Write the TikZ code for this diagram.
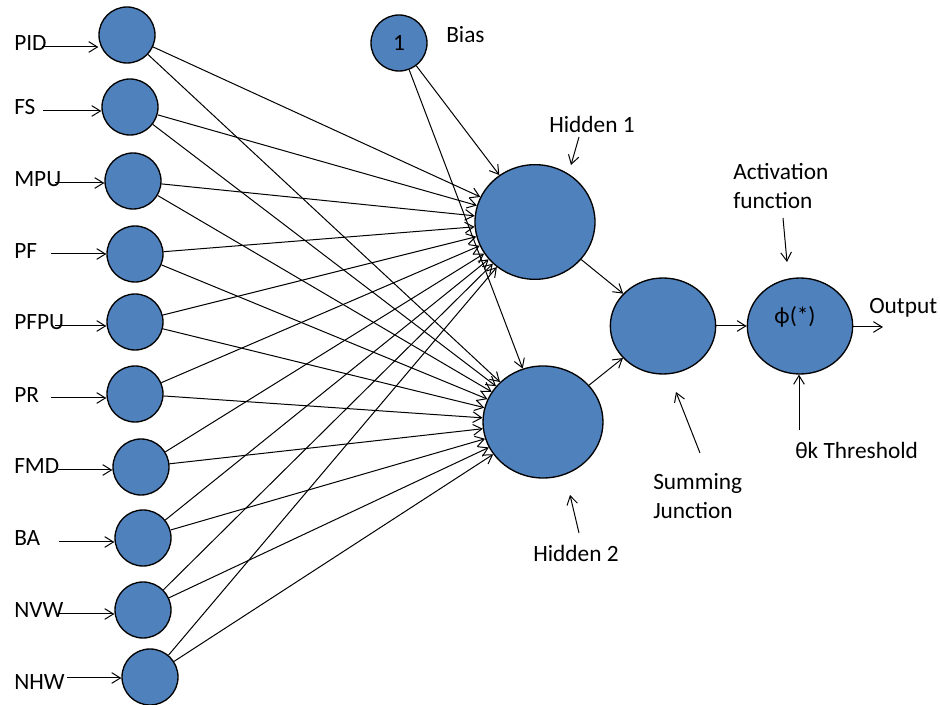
\documentclass[tikz,border=0pt]{standalone}
\usepackage{fontspec}
\setmainfont{Carlito}
\usetikzlibrary{arrows.meta,shapes.geometric}
\begin{document}
\begin{tikzpicture}[x=0.75pt,y=-0.75pt,
  every node/.style={font=\fontsize{17.5}{21.5}\selectfont},
  neuron/.style={circle,draw=black,line width=1pt,fill={rgb,255:red,79;green,129;blue,189},minimum size=42pt,inner sep=0pt},
  big/.style={ellipse,draw=black,line width=1pt,fill={rgb,255:red,79;green,129;blue,189},inner sep=0pt},
  lbl/.style={anchor=west,inner sep=0pt},
  arr/.style={line width=0.75pt,-{Straight Barb[length=6.5pt,width=8pt]}},
  wire/.style={line width=0.75pt,-{Straight Barb[length=6.5pt,width=8pt]}}]
\useasboundingbox (0,0) rectangle (940,705);

% hidden, summing, activation
\node[big,minimum width=90pt,minimum height=86pt] (h1) at (535,222) {};
\node[big,minimum width=90pt,minimum height=84pt] (h2) at (543,422) {};
\node[big,minimum width=79pt,minimum height=72pt] (sum) at (663,326) {};
\node[big,minimum width=79pt,minimum height=72pt] (act) at (800,326) {};
\node[inner sep=0pt] (phi) at (795,317) {ϕ(*)};

% bias
\node[neuron] (bias) at (399,43) {1};
\node[lbl] (biasl) at (446,35) {Bias};

% inputs
\foreach \n/\cx/\cy/\ly/\sx/\sy in {PID/127/35/43/42/47, FS/130/107/107/43/111, MPU/133/181/179/55/183, PF/135/254/251/51/254, PFPU/135/322/322/55/326, PR/135/394/395/51/398, FMD/141/467/466/58/470, BA/143/538/538/59/542, NVW/143/610/610/58/614, NHW/150/677/682/67/678}{
  \node[neuron] (i\n) at (\cx,\cy) {};
  \node[lbl] (l\n) at (14,\ly) {\n};
  \coordinate (s\n) at (\sx,\sy);
  \draw[arr] (s\n) -- (s\n -| i\n.west);
  \draw[wire] (i\n) -- (h1);
  \draw[wire] (i\n) -- (h2);
}
\draw[wire] (bias) -- (h1);
\draw[wire] (bias) -- (h2);
\draw[wire] (h1) -- (sum);
\draw[wire] (h2) -- (sum);
\draw[wire] (sum) -- (act);

% output
\coordinate (outend) at (883,327);
\draw[arr] (act.east |- outend) -- (outend);
\node[lbl] (outl) at (869,308) {Output};

% annotations
\node[lbl] (hid1) at (549,124) {Hidden 1};
\coordinate (a1s) at (579,137); \coordinate (a1e) at (571,165);
\draw[arr] (a1s) -- (a1e);

\node[lbl] (hid2) at (533,553) {Hidden 2};
\coordinate (a2s) at (579,533); \coordinate (a2e) at (570,495);
\draw[arr] (a2s) -- (a2e);

\node[lbl,align=left] (sumj) at (653,496) {Summing\\Junction};
\coordinate (a3s) at (700,453); \coordinate (a3e) at (676,392);
\draw[arr] (a3s) -- (a3e);

\node[lbl,align=left] (actf) at (733,186) {Activation\\function};
\coordinate (a4s) at (783,218); \coordinate (a4e) at (787,262);
\draw[arr] (a4s) -- (a4e);

\node[lbl] (thr) at (795,450) {θk Threshold};
\coordinate (a5s) at (799,430);
\draw[arr] (a5s) -- (a5s |- act.south);
\end{tikzpicture}
\end{document}
